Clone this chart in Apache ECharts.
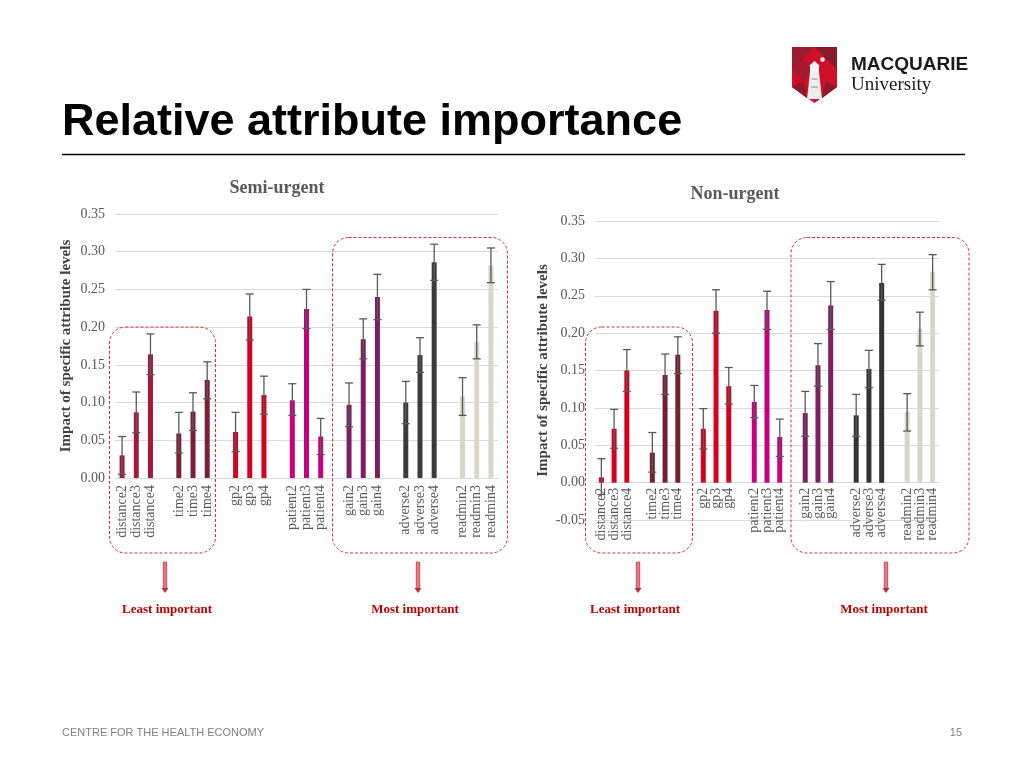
<!DOCTYPE html>
<html><head><meta charset="utf-8">
<script src="https://cdn.jsdelivr.net/npm/echarts@6/dist/echarts.min.js"></script>
<style>html,body{margin:0;padding:0;background:#fff}#c{width:1024px;height:768px}</style>
</head><body><div id="c"></div>
<script>
// ---- data ----
const categories = ['distance2','distance3','distance4','time2','time3','time4','gp2','gp3','gp4',
  'patient2','patient3','patient4','gain2','gain3','gain4','adverse2','adverse3','adverse4',
  'readmin2','readmin3','readmin4'];
const semiValues = [0.030,0.087,0.164, 0.059,0.088,0.130, 0.061,0.214,0.110, 0.103,0.224,0.055,
  0.097,0.184,0.240, 0.100,0.163,0.286, 0.108,0.180,0.282];
const semiLow = [0.005,0.060,0.137, 0.033,0.063,0.105, 0.035,0.183,0.085, 0.083,0.198,0.031,
  0.068,0.158,0.210, 0.072,0.140,0.262, 0.083,0.158,0.259];
const semiHigh = [0.055,0.114,0.191, 0.087,0.113,0.154, 0.087,0.244,0.135, 0.125,0.250,0.079,
  0.126,0.211,0.270, 0.128,0.186,0.310, 0.133,0.203,0.305];
const nonValues = [0.007,0.072,0.150, 0.040,0.144,0.171, 0.072,0.230,0.129, 0.108,0.231,0.061,
  0.093,0.157,0.237, 0.090,0.152,0.267, 0.095,0.206,0.282];
const nonLow = [-0.016,0.046,0.122, 0.014,0.118,0.146, 0.045,0.200,0.105, 0.087,0.205,0.035,
  0.062,0.129,0.205, 0.062,0.127,0.244, 0.069,0.183,0.258];
const nonHigh = [0.032,0.098,0.178, 0.067,0.172,0.195, 0.099,0.258,0.154, 0.130,0.256,0.085,
  0.122,0.186,0.269, 0.118,0.177,0.292, 0.119,0.228,0.305];
const yTicks = [-0.05,0,0.05,0.10,0.15,0.20,0.25,0.30,0.35];
const semiColors = ['#a6173c','#7a1f37','#d4001f','#c5007e','#7b1f5e','#3b3b3b','#d6d6cc'];
const nonColors  = ['#d2001f','#74202f','#d4001f','#c4007c','#7c1f5c','#333333','#d6d6cc'];

// ---- build slots with gaps between attribute groups ----
function buildCats(){ const out=[]; categories.forEach((c,i)=>{ if(i>0 && i%3===0) out.push(''); out.push(c);}); return out; }
function slotIndex(i){ return i + Math.floor(i/3); }
function buildBars(vals, colors){
  const out=[]; vals.forEach((v,i)=>{ if(i>0 && i%3===0) out.push('-');
    out.push({value:v, itemStyle:{color:colors[Math.floor(i/3)]}}); }); return out; }
function buildErr(lo, hi){ return lo.map((l,i)=>[slotIndex(i), l, hi[i]]); }

const slots = buildCats();
const serif = '"Liberation Serif", "Times New Roman", serif';
const sans = '"Liberation Sans", Arial, sans-serif';

function renderErr(params, api){
  const x = api.value(0);
  const p1 = api.coord([x, api.value(1)]);
  const p2 = api.coord([x, api.value(2)]);
  const w = 4, st = {stroke:'#595959', lineWidth:1.3};
  return {type:'group', children:[
    {type:'line', shape:{x1:p1[0],y1:p1[1],x2:p2[0],y2:p2[1]}, style:st},
    {type:'line', shape:{x1:p1[0]-w,y1:p1[1],x2:p1[0]+w,y2:p1[1]}, style:st},
    {type:'line', shape:{x1:p2[0]-w,y1:p2[1],x2:p2[0]+w,y2:p2[1]}, style:st}
  ]};
}

function xAxisCfg(gi, margin, offset){
  return {type:'category', gridIndex:gi, data:slots, boundaryGap:true, offset:offset,
    axisLine:{show:true, onZero:false, lineStyle:{color:'#d9d9d9'}}, axisTick:{show:false},
    axisLabel:{interval:0, rotate:90, margin:margin, color:'#595959', fontFamily:serif, fontSize:14}};
}
function yAxisCfg(gi, min, gap){
  return {type:'value', gridIndex:gi, min:min, max:0.35, interval:0.05,
    name:'Impact of specific attribute levels', nameLocation:'middle', nameGap:gap,
    nameTextStyle:{fontFamily:serif, fontWeight:'bold', fontSize:15, color:'#404040'},
    axisLine:{show:false}, axisTick:{show:false},
    splitLine:{lineStyle:{color:'#d9d9d9', width:1}},
    axisLabel:{margin:10, color:'#595959', fontFamily:serif, fontSize:14,
      formatter:v=>{ const t = yTicks.find(k=>Math.abs(k-v)<1e-9); return (t===undefined?v:t).toFixed(2);} }};
}

function dashedRect(x,y,w,h){ return {type:'rect', z:100, shape:{x:x,y:y,width:w,height:h,r:16},
  style:{fill:'rgba(0,0,0,0)', stroke:'#e02a3a', lineWidth:1, lineDash:[3,2]}}; }
function arrow(x){ return {type:'group', z:100, children:[
  {type:'rect', shape:{x:x-1.8,y:562,width:3.6,height:27}, style:{fill:new echarts.graphic.LinearGradient(0,0,1,0,[{offset:0,color:'#c8404f'},{offset:0.5,color:'#f08a96'},{offset:1,color:'#c8404f'}]), stroke:'#c03a4a', lineWidth:0.6}},
  {type:'polygon', shape:{points:[[x-3.5,588],[x+3.5,588],[x,593]]}, style:{fill:'#b8303f'}}]}; }
function txt(t,x,y,font,fill,align){ return {type:'text', z:100, style:{text:t,x:x,y:y,font:font,fill:fill,textAlign:align||'center',textVerticalAlign:'middle'}}; }

const nonHeight = 299, nonMin = -0.05, nonMax = 0.35;
const chart = echarts.init(document.getElementById('c'), null, {renderer:'canvas'});
chart.setOption({
  animation:false,
  grid:[{left:115, top:214, width:383, height:264},{left:595, top:221, width:344, height:nonHeight}],
  xAxis:[xAxisCfg(0,7,0), xAxisCfg(1,5,-nonHeight*(0-nonMin)/(nonMax-nonMin))],
  yAxis:[yAxisCfg(0,0,41), yAxisCfg(1,nonMin,44)],
  series:[
    {type:'bar', xAxisIndex:0, yAxisIndex:0, barWidth:5, data:buildBars(semiValues, semiColors)},
    {type:'custom', xAxisIndex:0, yAxisIndex:0, z:5, renderItem:renderErr, encode:{x:0,y:[1,2]}, data:buildErr(semiLow, semiHigh)},
    {type:'bar', xAxisIndex:1, yAxisIndex:1, barWidth:5, data:buildBars(nonValues, nonColors)},
    {type:'custom', xAxisIndex:1, yAxisIndex:1, z:5, renderItem:renderErr, encode:{x:0,y:[1,2]}, data:buildErr(nonLow, nonHigh)}
  ],
  graphic:[
    txt('Relative attribute importance', 62, 123, 'bold 45px '+sans, '#000', 'left'),
    {type:'line', shape:{x1:62,y1:154.5,x2:965,y2:154.5}, style:{stroke:'#000', lineWidth:1.3}},
    txt('Semi-urgent', 277, 188, 'bold 18px '+serif, '#595959'),
    txt('Non-urgent', 735, 194, 'bold 18px '+serif, '#595959'),
    dashedRect(109.5,327,106,226), dashedRect(332.5,237.5,175,315.5),
    dashedRect(585.5,327,107,226), dashedRect(791,237.5,178,315.5),
    arrow(165), arrow(418), arrow(638), arrow(886),
    txt('Least important', 167, 610, 'bold 13px '+serif, '#c00000'),
    txt('Most important', 415, 610, 'bold 13px '+serif, '#c00000'),
    txt('Least important', 635, 610, 'bold 13px '+serif, '#c00000'),
    txt('Most important', 884, 610, 'bold 13px '+serif, '#c00000'),
    txt('CENTRE FOR THE HEALTH ECONOMY', 62, 733, '11px '+sans, '#7f7f7f', 'left'),
    txt('15', 962, 733, '11px '+sans, '#7f7f7f', 'right'),
    // logo
    {type:'group', children:[
      {type:'polygon', shape:{points:[[792,47],[837,47],[837,87],[814.5,103],[792,87]]}, style:{fill:'#d0102a'}},
      {type:'polygon', shape:{points:[[792,47],[814.5,47],[792,70]]}, style:{fill:'#9c1a2e'}},
      {type:'polygon', shape:{points:[[814.5,47],[837,47],[837,70]]}, style:{fill:'#8a1a2a'}},
      {type:'polygon', shape:{points:[[792,70],[803,59],[814.5,70],[803,81]]}, style:{fill:'#a81a30'}},
      {type:'polygon', shape:{points:[[792,87],[803,81],[808,99]]}, style:{fill:'#8e1b2c'}},
      {type:'polygon', shape:{points:[[837,87],[826,81],[821,99]]}, style:{fill:'#8e1b2c'}},
      {type:'polygon', shape:{points:[[810,72],[819,72],[822,99],[807,99]]}, style:{fill:'#eeeeee'}},
      {type:'rect', shape:{x:810,y:65,width:9,height:7}, style:{fill:'#f4f4f4'}},
      {type:'polygon', shape:{points:[[809,66],[814.5,61],[820,66]]}, style:{fill:'#f4f4f4'}},
      {type:'rect', shape:{x:811.5,y:78,width:6,height:2}, style:{fill:'#bdbdbd'}},
      {type:'rect', shape:{x:811,y:86,width:7,height:2}, style:{fill:'#bdbdbd'}},
      {type:'circle', shape:{cx:822.5,cy:59.5,r:2.2}, style:{fill:'#ffffff'}}
    ]},
    txt('MACQUARIE', 851, 64.5, 'bold 19px '+sans, '#1a1a1a', 'left'),
    txt('University', 851, 85, '19px '+serif, '#1a1a1a', 'left')
  ]
});
</script></body></html>
